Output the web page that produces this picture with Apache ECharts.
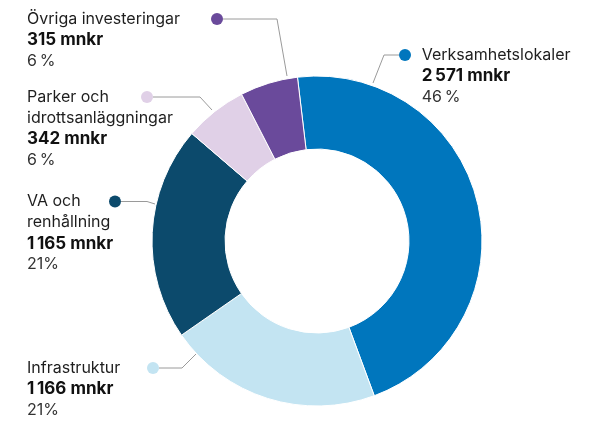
<!DOCTYPE html>
<html><head><meta charset="utf-8">
<script src="https://cdn.jsdelivr.net/npm/echarts@6/dist/echarts.min.js"></script>
<style>html,body{margin:0;padding:0;background:#fff}#c{width:589px;height:421px}</style>
</head><body><div id="c"></div>
<script>
const categories = ['Verksamhetslokaler', 'Infrastruktur', 'VA och\nrenhållning', 'Parker och\nidrottsanläggningar', 'Övriga investeringar'];
const values = [2571, 1166, 1165, 342, 315];
const pctLabels = ['46\u2009%', '21%', '21%', '6\u2009%', '6\u2009%'];
const colors = ['#0076bd', '#c3e4f2', '#0c4a6c', '#e0d0e7', '#6a4a9b'];

// label layout (annotation positions only)
const layouts = [
  {x: 399, y: 44.5, side: 'right', gap: 10.7, indent: 22.7, anchor: [373, 83], bendX: 384},
  {x: 27, y: 357.5, side: 'left', box: 120, anchor: [197, 353], bendX: 182},
  {x: 27, y: 191, side: 'left', box: 82, anchor: [155, 204], bendX: 147},
  {x: 27, y: 86.5, side: 'left', box: 114, anchor: [212, 110], bendX: 200},
  {x: 27, y: 8.5, side: 'left', box: 184, anchor: [287, 76], bendX: 277}
];
const FONT = 'Inter';
const FS = 16, LH = 21;
function fmt(v) { return String(v).replace(/\B(?=(\d{3})+(?!\d))/g, '\u2009') + ' mnkr'; }

const data = values.map((v, i) => {
  const L = layouts[i];
  const lines = categories[i].split('\n');
  const rich = {
    t: {fontFamily: FONT, fontSize: FS, lineHeight: LH, color: '#1e1e1e'},
    v: {fontFamily: FONT, fontSize: 17, lineHeight: LH, color: '#111', fontWeight: 'bold'},
    p: {fontFamily: FONT, fontSize: FS, lineHeight: LH, color: '#333'},
    d: {width: 12, height: 12, borderRadius: 6, backgroundColor: colors[i]},
    g: {width: L.gap || 0, height: LH},
    ind: {width: L.indent || 0, height: LH},
    f: {fontFamily: FONT, fontSize: FS, lineHeight: LH, color: '#1e1e1e', width: L.box || 0, align: 'left'}
  };
  let s;
  if (L.side === 'right') {
    s = '{d|}{g|}{t|' + lines[0] + '}';
    for (let k = 1; k < lines.length; k++) s += '\n{ind|}{t|' + lines[k] + '}';
    s += '\n{ind|}{v|' + fmt(v) + '}\n{ind|}{p|' + pctLabels[i] + '}';
  } else {
    s = '{f|' + lines[0] + '}{d|}';
    for (let k = 1; k < lines.length; k++) s += '\n{t|' + lines[k] + '}';
    s += '\n{v|' + fmt(v) + '}\n{p|' + pctLabels[i] + '}';
  }
  return {value: v, name: categories[i], itemStyle: {color: colors[i]}, label: {formatter: s, rich: rich}};
});

const chart = echarts.init(document.getElementById('c'), null, {renderer: 'canvas'});
chart.setOption({
  animation: false,
  series: [{
    type: 'pie',
    center: [317, 241],
    radius: [92, 165],
    startAngle: 96.8,
    clockwise: true,
    avoidLabelOverlap: false,
    itemStyle: {borderColor: '#fff', borderWidth: 1},
    label: {show: true, position: 'outside', align: 'left'},
    labelLine: {show: true, smooth: false, length: 10, length2: 10, lineStyle: {color: '#9a9a9a', width: 1}},
    emphasis: {disabled: true},
    labelLayout: function (params) {
      const L = layouts[params.dataIndex];
      const cy = L.y + LH / 2;
      const endX = L.side === 'right' ? L.x : L.x + L.box + 12;
      return {
        x: L.x, y: L.y, align: 'left', verticalAlign: 'top',
        labelLinePoints: [L.anchor, [L.bendX, cy], [endX, cy]]
      };
    },
    data: data
  }]
});
</script></body></html>
